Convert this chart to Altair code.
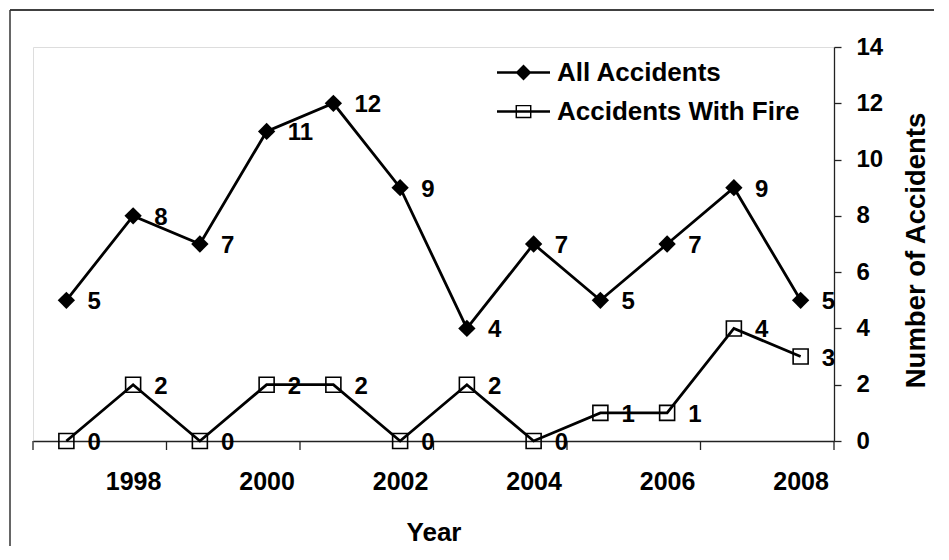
import altair as alt
import pandas as pd

# ---- data ----
years = list(range(1997, 2009))
all_accidents = [5, 8, 7, 11, 12, 9, 4, 7, 5, 7, 9, 5]
fire_accidents = [0, 2, 0, 2, 2, 0, 2, 0, 1, 1, 4, 3]
series_names = ["All Accidents", "Accidents With Fire"]
year_labels = [1998, 2000, 2002, 2004, 2006, 2008]
x_tick_marks = [1996.5, 1998.5, 2000.5, 2002.5, 2004.5, 2006.5, 2008.5]
y_ticks = [0, 2, 4, 6, 8, 10, 12, 14]

rows = []
for yr, a, f in zip(years, all_accidents, fire_accidents):
    rows.append({"Year": yr, "Series": series_names[0], "Count": a})
    rows.append({"Year": yr, "Series": series_names[1], "Count": f})
df = pd.DataFrame(rows)
ticks_df = pd.DataFrame({"Year": x_tick_marks})

W, H = 801, 394
FONT = "Liberation Sans"
AXIS_COLOR = "#222222"

x_scale = alt.Scale(domain=[1996.5, 2008.5], nice=False, zero=False)
y_scale = alt.Scale(domain=[0, 14], nice=False)

x_axis = alt.Axis(
    values=year_labels, format="d", ticks=False, tickSize=0, grid=False,
    labelFont=FONT, labelFontSize=25, labelFontWeight="bold", labelColor="black",
    labelPadding=28, labelFlush=False,
    title="Year", titleFont=FONT, titleFontSize=26, titleFontWeight="bold",
    titleColor="black", titlePadding=25,
    domainColor=AXIS_COLOR, domainWidth=1.3,
)
x_enc = alt.X("Year:Q", scale=x_scale, axis=x_axis)
y_enc = alt.Y(
    "Count:Q",
    scale=y_scale,
    axis=alt.Axis(
        orient="right", values=y_ticks, grid=False,
        tickSize=7, tickColor=AXIS_COLOR, tickWidth=1.3,
        domainColor=AXIS_COLOR, domainWidth=1.3,
        labelFont=FONT, labelFontSize=24, labelFontWeight="bold", labelColor="black",
        labelPadding=15,
        title="Number of Accidents", titleFont=FONT, titleFontSize=27.5,
        titleFontWeight="bold", titleColor="black", titleAngle=270,
        titleBaseline="top", titlePadding=20, titleY=203,
    ),
)

# legend glyphs: a line with a marker, drawn as filled outlines
diamond_leg = "M-1,-0.05H1V0.05H-1Z M0,-0.3L0.3,0L0,0.3L-0.3,0Z"
square_leg = ("M-1,-0.05H1V0.05H-1Z "
              "M-0.3,-0.25H0.3V0.25H-0.3Z "
              "M-0.245,-0.195V0.195H0.245V-0.195Z")

legend = alt.Legend(
    title=None, orient="none", legendX=464, legendY=8, padding=0,
    labelFont=FONT, labelFontSize=26, labelFontWeight="bold", labelColor="black",
    labelOffset=7, labelLimit=500, clipHeight=35, rowPadding=4,
    symbolSize=2809, symbolStrokeWidth=0, symbolOpacity=1,
)

base = alt.Chart(df)

lines = base.mark_line(color="black", strokeWidth=2.8).encode(
    x=x_enc, y=y_enc, detail="Series:N"
)

points_all = base.transform_filter(alt.datum.Series == series_names[0]).mark_point(
    shape="diamond", filled=True, color="black", size=300, opacity=1
).encode(x=x_enc, y=y_enc)

points_fire = base.transform_filter(alt.datum.Series == series_names[1]).mark_point(
    shape="square", filled=False, stroke="black", strokeWidth=1.6, size=225, opacity=1
).encode(x=x_enc, y=y_enc)

legend_layer = base.mark_point(
    filled=True, size=2809, opacity=0
).encode(
    x=x_enc, y=y_enc,
    shape=alt.Shape("Series:N", scale=alt.Scale(domain=series_names, range=[diamond_leg, square_leg]), legend=legend),
    fill=alt.Fill("Series:N", scale=alt.Scale(domain=series_names, range=["black", "black"]), legend=legend),
)

labels = base.mark_text(
    align="left", baseline="middle", dx=21, dy=2,
    font=FONT, fontSize=24, fontWeight="bold", color="black",
).encode(x=x_enc, y=y_enc, text="Count:Q")

xticks = alt.Chart(ticks_df).mark_rule(color=AXIS_COLOR, strokeWidth=1.3).encode(
    x=x_enc,
    y=alt.value(H), y2=alt.value(H + 9),
)

frame_data = alt.Data(values=[{"k": 1}])
frame_top = alt.Chart(frame_data).mark_rule(color="black", strokeWidth=1.5).encode(
    x=alt.value(-23), x2=alt.value(W + 120), y=alt.value(-37)
)
frame_left = alt.Chart(frame_data).mark_rule(color="#333333", strokeWidth=1.5).encode(
    x=alt.value(-23), y=alt.value(-37), y2=alt.value(H + 130)
)

chart = alt.layer(
    frame_top, frame_left, xticks, lines, legend_layer, points_all, points_fire, labels
).properties(
    width=W, height=H,
    autosize=alt.AutoSizeParams(type="none"),
    padding={"left": 25, "top": 39, "right": 100, "bottom": 105},
).configure_view(stroke=None).configure(font=FONT)

chart.save("out.html", embed_options={"renderer": "svg", "actions": False})
